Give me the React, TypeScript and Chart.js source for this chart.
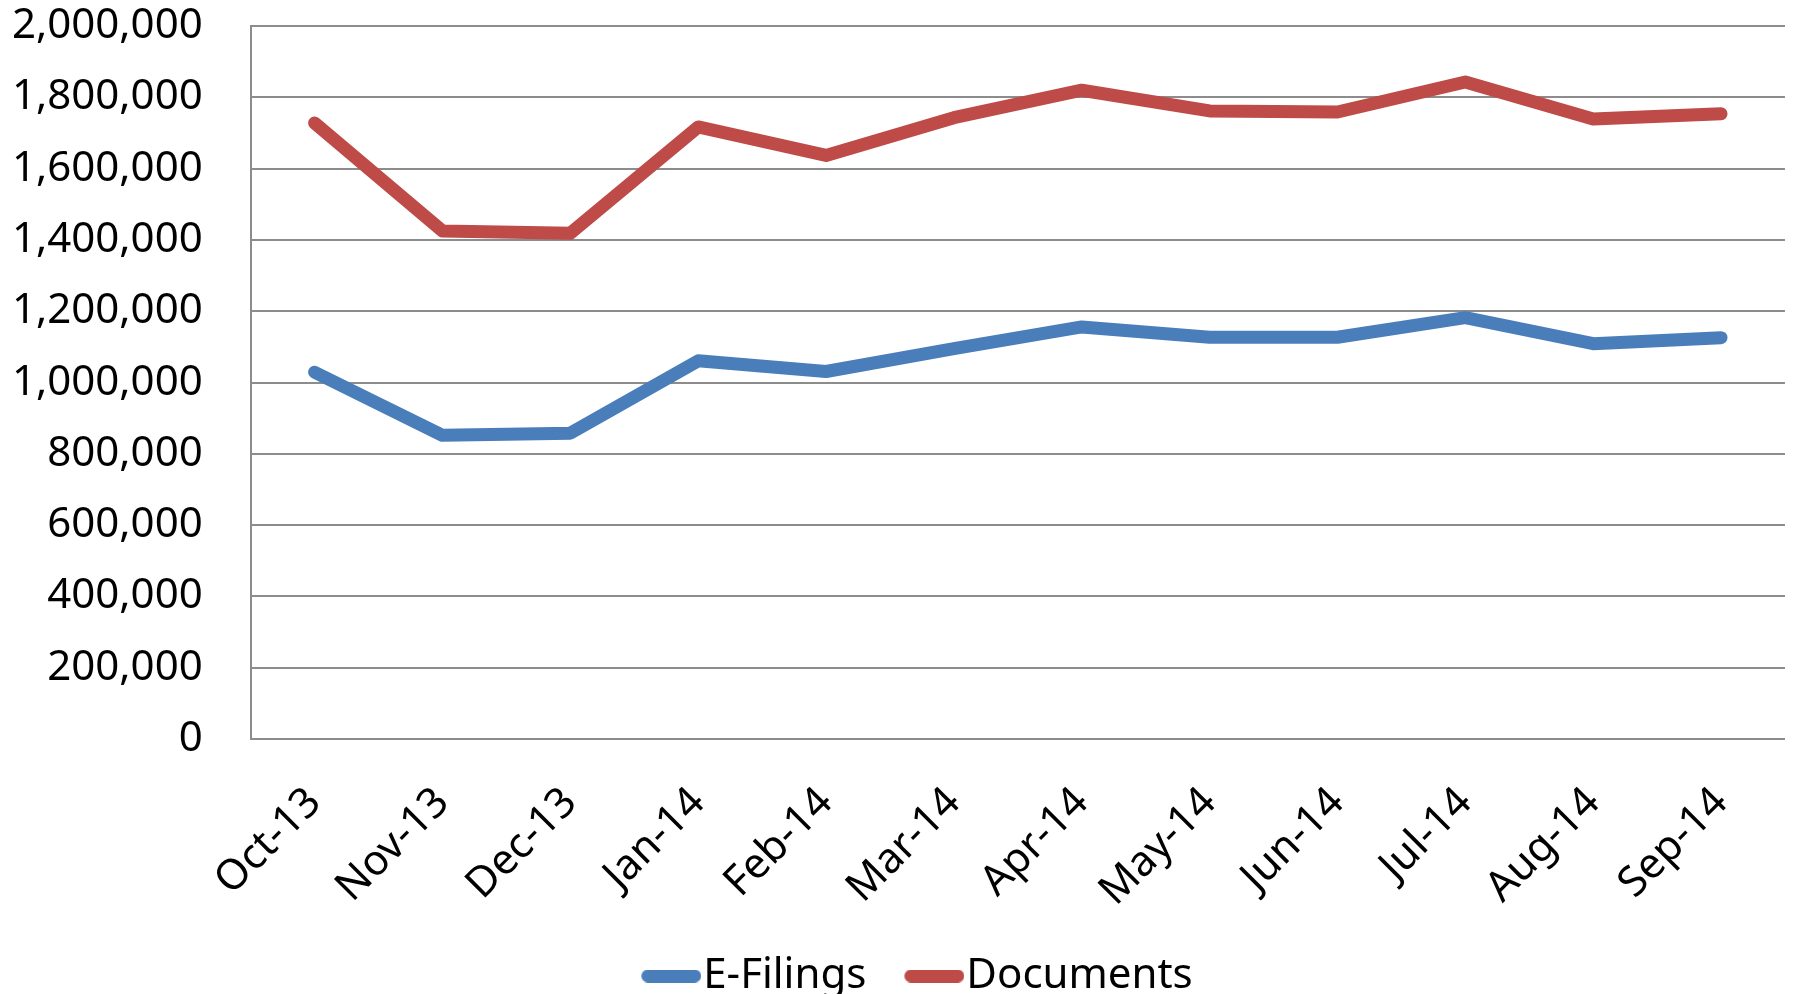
import React, { useEffect, useRef } from "react";
import { Chart, registerables } from "chart.js";

Chart.register(...registerables);

const categories = ["Oct-13", "Nov-13", "Dec-13", "Jan-14", "Feb-14", "Mar-14", "Apr-14", "May-14", "Jun-14", "Jul-14", "Aug-14", "Sep-14"];
const eFilings = [1029000, 852000, 858000, 1061000, 1031000, 1095000, 1156000, 1127000, 1127000, 1182000, 1109000, 1126000];
const documents = [1728000, 1425000, 1419000, 1717000, 1637000, 1743000, 1820000, 1762000, 1759000, 1843000, 1739000, 1754000];
const seriesNames = ["E-Filings", "Documents"];
const seriesColors = ["#4A7EBB", "#BE4B48"];

const LEGEND_BOX = 79;

function legendSwatch(color: string): HTMLCanvasElement {
  const c = document.createElement("canvas");
  const w = LEGEND_BOX + 38;
  c.width = w;
  c.height = 13;
  const ctx = c.getContext("2d")!;
  ctx.strokeStyle = color;
  ctx.lineWidth = 13;
  ctx.lineCap = "round";
  ctx.beginPath();
  ctx.moveTo(w - 60 + 6.5, 6.5);
  ctx.lineTo(w - 6.5, 6.5);
  ctx.stroke();
  return c;
}

export default function App() {
  const ref = useRef<HTMLCanvasElement | null>(null);
  useEffect(() => {
    if (!ref.current) return;
    const font = { family: "'Noto Sans', sans-serif", size: 42 };
    const chart = new Chart(ref.current, {
      type: "line",
      data: {
        labels: categories,
        datasets: [eFilings, documents].map((d, i) => ({
          label: seriesNames[i],
          data: d,
          borderColor: seriesColors[i],
          backgroundColor: seriesColors[i],
          borderWidth: 13,
          borderCapStyle: "round" as const,
          borderJoinStyle: "round" as const,
          pointRadius: 0,
          pointHoverRadius: 0,
          pointStyle: legendSwatch(seriesColors[i]),
          tension: 0,
          fill: false,
        })),
      },
      options: {
        animation: false,
        responsive: false,
        maintainAspectRatio: false,
        layout: { padding: { top: 0, right: 8, left: 8, bottom: -13 } },
        plugins: {
          legend: {
            position: "bottom",
            labels: {
              usePointStyle: true,
              boxWidth: LEGEND_BOX,
              pointStyleWidth: LEGEND_BOX,
              padding: 0,
              color: "#000",
              font,
            },
          },
          tooltip: { enabled: false },
        },
        scales: {
          x: {
            offset: true,
            grid: { display: false, drawTicks: false },
            border: { display: true, color: "#8c8c8c", width: 2 },
            ticks: { color: "#000", font, minRotation: 45, maxRotation: 45, padding: 39, autoSkip: false },
          },
          y: {
            min: 0,
            max: 2000000,
            grid: { color: "#8c8c8c", lineWidth: 2, drawTicks: true, tickLength: 44, tickColor: "rgba(0,0,0,0)" },
            border: { display: true, color: "#8c8c8c", width: 2 },
            ticks: {
              stepSize: 200000,
              color: "#000",
              font: { ...font, lineHeight: 1.05 },
              padding: 4,
              callback: (v: any) => Number(v).toLocaleString("en-US"),
            },
          },
        },
      },
    });
    return () => chart.destroy();
  }, []);
  return (
    <div style={{ position: "fixed", left: 0, top: 0, width: 1796, height: 994, background: "#fff" }}>
      <canvas ref={ref} width={1796} height={994} style={{ width: 1796, height: 994, display: "block" }} />
    </div>
  );
}
